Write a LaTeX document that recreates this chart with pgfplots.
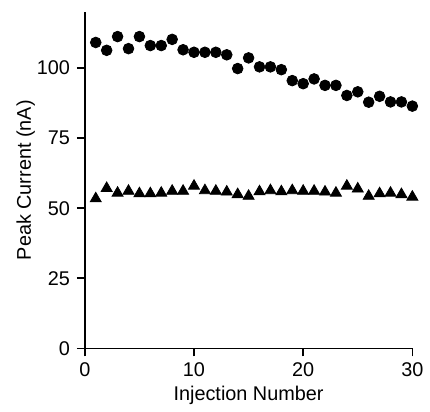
\documentclass[border=0pt]{standalone}
\usepackage{pgfplots}
\pgfplotsset{compat=1.18}
\usepackage{fontspec}
\setmainfont{Liberation Sans}

\begin{document}
\begin{tikzpicture}
  \begin{axis}[
    name=ax,
    width=165pt, height=169.5pt,
    scale only axis,
    axis lines=left,
    axis line style={-, line width=0.8pt},
    y axis line style={shorten <=-1.8pt},
    xmin=0, xmax=30,
    ymin=0, ymax=120,
    xtick={0,10,20,30},
    ytick={0,25,50,75,100},
    tick align=outside,
    major tick length=4pt,
    tick style={line width=0.8pt, black},
    /pgf/number format/assume math mode=true,
    ticklabel style={font=\fontsize{10}{12}\selectfont},
    label style={font=\fontsize{10}{12}\selectfont},
    xticklabel style={yshift=0.5pt},
    xlabel={Injection Number},
    ylabel={Peak Current (nA)},
    xlabel style={yshift=2pt},
    ylabel style={yshift=-6pt},
    clip=false,
  ]
    % circles
    \addplot[only marks, mark=*, mark size=2.7pt, black] coordinates {
      (1,109.1) (2,106.3) (3,111.2) (4,106.9) (5,111.2)
      (6,108.0) (7,108.0) (8,110.2) (9,106.5) (10,105.6)
      (11,105.6) (12,105.6) (13,104.7) (14,99.8) (15,103.6)
      (16,100.4) (17,100.4) (18,99.4) (19,95.5) (20,94.4)
      (21,96.1) (22,93.8) (23,93.8) (24,90.2) (25,91.5)
      (26,87.8) (27,89.9) (28,87.9) (29,87.9) (30,86.4)
    };
    % triangles
    \addplot[only marks, mark=triangle*, mark size=3.2pt, black] coordinates {
      (1,53.4) (2,57.1) (3,55.4) (4,56.1) (5,55.2)
      (6,55.2) (7,55.4) (8,56.1) (9,56.1) (10,57.9)
      (11,56.3) (12,56.1) (13,55.8) (14,54.9) (15,54.3)
      (16,55.9) (17,56.3) (18,55.9) (19,56.3) (20,56.1)
      (21,56.1) (22,55.8) (23,55.4) (24,57.9) (25,56.9)
      (26,54.3) (27,55.2) (28,55.4) (29,54.9) (30,54.0)
    };
  \end{axis}
  % extra white space above and left of the axis, as in the reference
  \path (ax.north west) ++(0,6pt) -- ++(1pt,0);
  \path (ax.outer west) ++(-5pt,0) -- ++(1pt,0);
\end{tikzpicture}
\end{document}
